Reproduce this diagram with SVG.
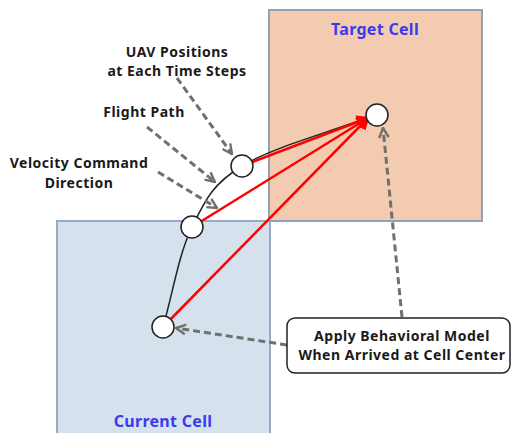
<svg xmlns="http://www.w3.org/2000/svg" width="512" height="433" viewBox="0 0 512 433">
  <style>
    .lbl { font-family: "Noto Sans", "Liberation Sans", sans-serif; font-weight: bold; font-size: 14px; letter-spacing: 0.5px; fill: #1a1a1a; text-anchor: middle; }
    .cell-lbl { font-family: "Noto Sans", "Liberation Sans", sans-serif; font-weight: bold; font-size: 16px; letter-spacing: 0.3px; fill: #3a3af0; text-anchor: middle; }
    .pos { fill: #ffffff; stroke: #222222; stroke-width: 1.5; }
    .cmd { stroke: #ff0000; stroke-width: 2.5; fill: none; marker-end: url(#redHead); }
    .note { stroke: #707070; stroke-width: 3; stroke-dasharray: 7 4; fill: none; marker-end: url(#grayHead); }
  </style>
  <defs>
    <marker id="redHead" viewBox="0 0 10 10" refX="8" refY="5" markerWidth="5.5" markerHeight="5.5" orient="auto" markerUnits="strokeWidth">
      <path d="M0,0 L10,5 L0,10 Z" fill="#ff0000"/>
    </marker>
    <marker id="grayHead" viewBox="0 0 10 10" refX="9" refY="5" markerWidth="4" markerHeight="4" orient="auto" markerUnits="strokeWidth">
      <path d="M1,1 L9,5 L1,9" fill="none" stroke="#707070" stroke-width="2"/>
    </marker>
  </defs>
  <rect width="512" height="433" fill="#ffffff"/>

  <!-- grid cells -->
  <g id="target-cell">
    <rect x="269" y="10" width="213" height="211" fill="#f2cbb1" stroke="#8fa2b6" stroke-width="2"/>
    <text class="cell-lbl" x="375" y="35">Target Cell</text>
  </g>
  <g id="current-cell">
    <rect x="57" y="221" width="213" height="220" fill="#d5e2ed" stroke="#97acc3" stroke-width="2"/>
    <text class="cell-lbl" x="163" y="427">Current Cell</text>
  </g>

  <!-- flight path and velocity commands -->
  <g id="connectors">
    <path d="M163,327 C172.7,293.7 178.8,253.8 192,227 C205.2,200.2 212,184.5 242,166 C272,147.5 328.7,132.7 372,116" fill="none" stroke="#222222" stroke-width="1.5"/>
    <line class="cmd" x1="163" y1="327" x2="368" y2="118"/>
    <line class="cmd" x1="192" y1="227" x2="368" y2="118"/>
    <line class="cmd" x1="242" y1="166" x2="368" y2="118"/>

    <line class="note" x1="177" y1="78" x2="232" y2="154"/>
    <line class="note" x1="147" y1="127" x2="215" y2="182"/>
    <line class="note" x1="158" y1="172" x2="217" y2="208"/>
    <line class="note" x1="402" y1="317" x2="383" y2="128"/>
    <line class="note" x1="287" y1="345" x2="176" y2="328"/>
  </g>

  <!-- UAV positions -->
  <g id="pos-start"><circle class="pos" cx="163" cy="327" r="11"/></g>
  <g id="pos-step1"><circle class="pos" cx="192" cy="227" r="11"/></g>
  <g id="pos-step2"><circle class="pos" cx="242" cy="166" r="11"/></g>
  <g id="pos-target"><circle class="pos" cx="377" cy="115" r="11"/></g>

  <!-- annotations -->
  <g id="label-positions">
    <text class="lbl" x="177" y="57">UAV Positions</text>
    <text class="lbl" x="177" y="76">at Each Time Steps</text>
  </g>
  <g id="label-flight-path">
    <text class="lbl" x="144" y="117">Flight Path</text>
  </g>
  <g id="label-velocity">
    <text class="lbl" x="79" y="168">Velocity Command</text>
    <text class="lbl" x="79" y="188">Direction</text>
  </g>
  <g id="behavior-box">
    <rect x="287" y="318" width="223" height="55" rx="8" ry="8" fill="#ffffff" stroke="#222222" stroke-width="1.5"/>
    <text class="lbl" x="402" y="341">Apply Behavioral Model</text>
    <text class="lbl" x="402" y="360">When Arrived at Cell Center</text>
  </g>
</svg>
